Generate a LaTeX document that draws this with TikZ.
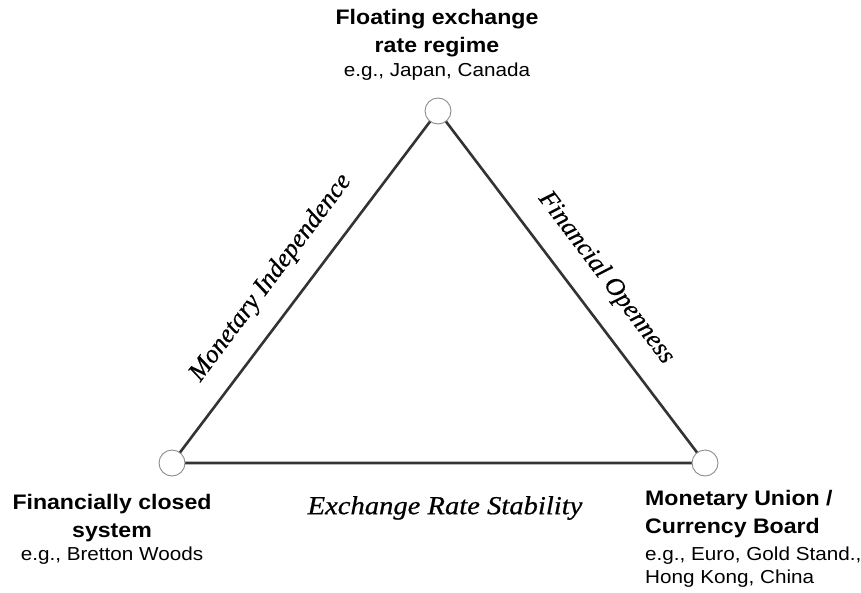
\documentclass[tikz,border=0pt]{standalone}
\usepackage{fontspec}
\newfontfamily\labelsans[FakeStretch=1.1]{Liberation Sans}
\newfontfamily\sideserif[FakeBold=0.6]{Liberation Serif}
\newfontfamily\baseserif[FakeBold=0.6,FakeStretch=1.1]{Liberation Serif}
\begin{document}
\begin{tikzpicture}[x=1pt,y=-1pt,
  side/.style={draw=black!80, line width=2.6pt},
  corner/.style={circle, draw=black!45, line width=0.9pt, fill=white, minimum size=26pt, inner sep=0pt},
  regime/.style={font=\labelsans\bfseries\fontsize{21}{27.5}\selectfont, align=center, inner sep=0pt},
  example/.style={font=\labelsans\fontsize{18.8}{22.5}\selectfont, inner sep=0pt},
  sidelabel/.style={font=\sideserif\itshape\fontsize{26}{30}\selectfont, inner sep=0pt},
  baselabel/.style={font=\baseserif\itshape\fontsize{26}{30}\selectfont, inner sep=0pt}]
  \useasboundingbox (0,0) rectangle (861,592);
  \fill[white] (0,0) rectangle (861,592);

  % triangle corners
  \coordinate (T) at (438,111);
  \coordinate (L) at (172,463);
  \coordinate (R) at (705,463);

  \draw[side] (L) -- (T) -- (R) -- cycle;
  \node[corner] (top) at (T) {};
  \node[corner] (left) at (L) {};
  \node[corner] (right) at (R) {};

  % sides of the trilemma
  \node[sidelabel, rotate=53.1] (mi) at (271,278) {Monetary Independence};
  \node[sidelabel, rotate=-52.9] (fo) at (606,278) {Financial Openness};
  \node[baselabel] (ers) at (445,508) {Exchange Rate Stability};

  % corner regimes
  \node[regime] (float) at (437,33) {Floating exchange\\rate regime};
  \node[example] (floatex) at (437,72) {e.g., Japan, Canada};

  \node[regime] (closed) at (112,518) {Financially closed\\system};
  \node[example] (closedex) at (112,556) {e.g., Bretton Woods};

  \node[regime, align=left, anchor=west] (union) at (645,514) {Monetary Union /\\Currency Board};
  \node[example, align=left, anchor=west] (unionex) at (645,567) {e.g., Euro, Gold Stand.,\\Hong Kong, China};
\end{tikzpicture}
\end{document}
